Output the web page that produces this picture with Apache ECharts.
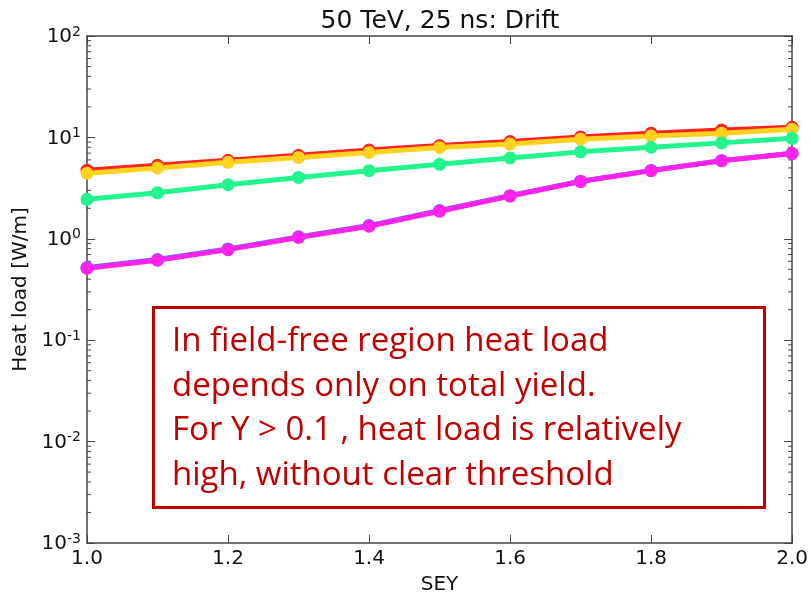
<!DOCTYPE html>
<html>
<head>
<meta charset="utf-8">
<script src="https://cdn.jsdelivr.net/npm/echarts@6/dist/echarts.min.js"></script>
<style>
html,body{margin:0;padding:0;background:#fff;}
#chart{width:811px;height:600px;}
</style>
</head>
<body>
<div id="chart"></div>
<script>
// SEY scan values
const sey = [1.0, 1.1, 1.2, 1.3, 1.4, 1.5, 1.6, 1.7, 1.8, 1.9, 2.0];

// Heat load [W/m] for each case
const heatRed     = [4.75, 5.3, 5.95, 6.65, 7.5, 8.3, 9.1, 10.1, 11.0, 11.8, 12.6];
const heatYellow  = [4.43, 5.0, 5.68, 6.35, 7.1, 7.95, 8.6, 9.6, 10.3, 11.0, 12.0];
const heatGreen   = [2.45, 2.84, 3.41, 4.03, 4.7, 5.43, 6.26, 7.2, 8.0, 8.83, 9.8];
const heatBlue    = [0.52, 0.625, 0.795, 1.045, 1.35, 1.9, 2.66, 3.7, 4.72, 5.9, 6.96];
const heatMagenta = [0.513, 0.615, 0.782, 1.03, 1.33, 1.87, 2.64, 3.67, 4.7, 5.89, 6.95];

const xTicks = [1.0, 1.2, 1.4, 1.6, 1.8, 2.0];
const yDecades = [-3, -2, -1, 0, 1, 2];

const noteLines = [
  'In field-free region heat load',
  'depends only on total yield.',
  'For Y > 0.1 , heat load is relatively',
  'high, without clear threshold'
];

// minor log ticks at 2..9 x 10^k
const minorTicks = [];
for (let k = yDecades[0]; k < yDecades[yDecades.length - 1]; k++) {
  for (let m = 2; m <= 9; m++) minorTicks.push([m * Math.pow(10, k)]);
}

const pair = (ys) => sey.map((x, i) => [x, ys[i]]);

const axisColor = '#444';
const fontMain = 'DejaVu Sans';

function lineSeries(name, color, ys) {
  return {
    name, type: 'line', data: pair(ys), color,
    symbol: 'circle', symbolSize: 13,
    lineStyle: { width: 5, color },
    itemStyle: { color },
    z: 3, animation: false
  };
}

const chart = echarts.init(document.getElementById('chart'), null, { renderer: 'canvas' });

chart.setOption({
  animation: false,
  backgroundColor: '#fff',
  title: {
    text: '50 TeV, 25 ns: Drift',
    left: 435, top: 4, textAlign: 'center',
    textStyle: { fontFamily: fontMain, fontWeight: 'normal', fontSize: 25, color: '#111' }
  },
  grid: { left: 87, right: 14, top: 36, bottom: 53 },
  xAxis: [{
    type: 'value', min: xTicks[0], max: xTicks[xTicks.length - 1], interval: 0.2,
    name: 'SEY', nameLocation: 'middle', nameGap: 32,
    nameTextStyle: { fontFamily: fontMain, fontSize: 20, color: '#111' },
    axisLine: { show: true, lineStyle: { color: axisColor, width: 1.5 } },
    axisTick: { show: true, inside: true, length: 8, lineStyle: { color: axisColor } },
    axisLabel: { fontFamily: fontMain, fontSize: 20, color: '#111', margin: 6,
      formatter: v => v.toFixed(1) },
    splitLine: { show: false }
  }, {
    type: 'value', min: xTicks[0], max: xTicks[xTicks.length - 1], interval: 0.2, position: 'top',
    axisLine: { show: true, lineStyle: { color: axisColor, width: 1.5 } },
    axisTick: { show: true, inside: true, length: 8, lineStyle: { color: axisColor } },
    axisLabel: { show: false }, splitLine: { show: false }
  }],
  yAxis: [{
    type: 'log', logBase: 10, min: 0.001, max: 100,
    name: 'Heat load [W/m]', nameLocation: 'middle', nameGap: 56,
    nameTextStyle: { fontFamily: fontMain, fontSize: 20, color: '#111' },
    axisLine: { show: true, lineStyle: { color: axisColor, width: 1.5 } },
    axisTick: { show: true, inside: true, length: 8, lineStyle: { color: axisColor } },
    axisLabel: {
      margin: 6,
      formatter: v => {
        const e = Math.round(Math.log10(v));
        return '{b|10}{s|' + e + '}';
      },
      rich: {
        b: { fontFamily: fontMain, fontSize: 20, color: '#111', verticalAlign: 'bottom', lineHeight: 22 },
        s: { fontFamily: fontMain, fontSize: 14, color: '#111', verticalAlign: 'top', lineHeight: 22, padding: [0, 0, 12, 0] }
      }
    },
    splitLine: { show: false }
  }, {
    type: 'log', logBase: 10, min: 0.001, max: 100, position: 'right',
    axisLine: { show: true, lineStyle: { color: axisColor, width: 1.5 } },
    axisTick: { show: true, inside: true, length: 8, lineStyle: { color: axisColor } },
    axisLabel: { show: false }, splitLine: { show: false }
  }],
  series: [
    {
      // minor ticks on both vertical spines
      type: 'custom', data: minorTicks, silent: true, z: 1,
      encode: { y: 0 },
      renderItem: (params, api) => {
        const v = api.value(0);
        const l = api.coord([xTicks[0], v]);
        const r = api.coord([xTicks[xTicks.length - 1], v]);
        const style = { stroke: axisColor, lineWidth: 1 };
        return {
          type: 'group', children: [
            { type: 'line', shape: { x1: l[0], y1: l[1], x2: l[0] + 4, y2: l[1] }, style },
            { type: 'line', shape: { x1: r[0], y1: r[1], x2: r[0] - 4, y2: r[1] }, style }
          ]
        };
      }
    },
    lineSeries('red', '#ff2222', heatRed),
    lineSeries('yellow', '#ffd21f', heatYellow),
    lineSeries('green', '#22f58e', heatGreen),
    lineSeries('blue', '#5a6cff', heatBlue),
    lineSeries('magenta', '#ff22ea', heatMagenta)
  ],
  graphic: [{
    type: 'rect', left: 152, top: 306, z: 10,
    shape: { width: 611, height: 200 },
    style: { fill: '#fff', stroke: '#c00000', lineWidth: 3 }
  }].concat(noteLines.map((t, i) => ({
    type: 'text', x: 172, y: 325 + i * 44.7, z: 11,
    style: { text: t, fill: '#c00000', font: '33px "Open Sans"', verticalAlign: 'top' }
  })))
});
</script>
</body>
</html>
